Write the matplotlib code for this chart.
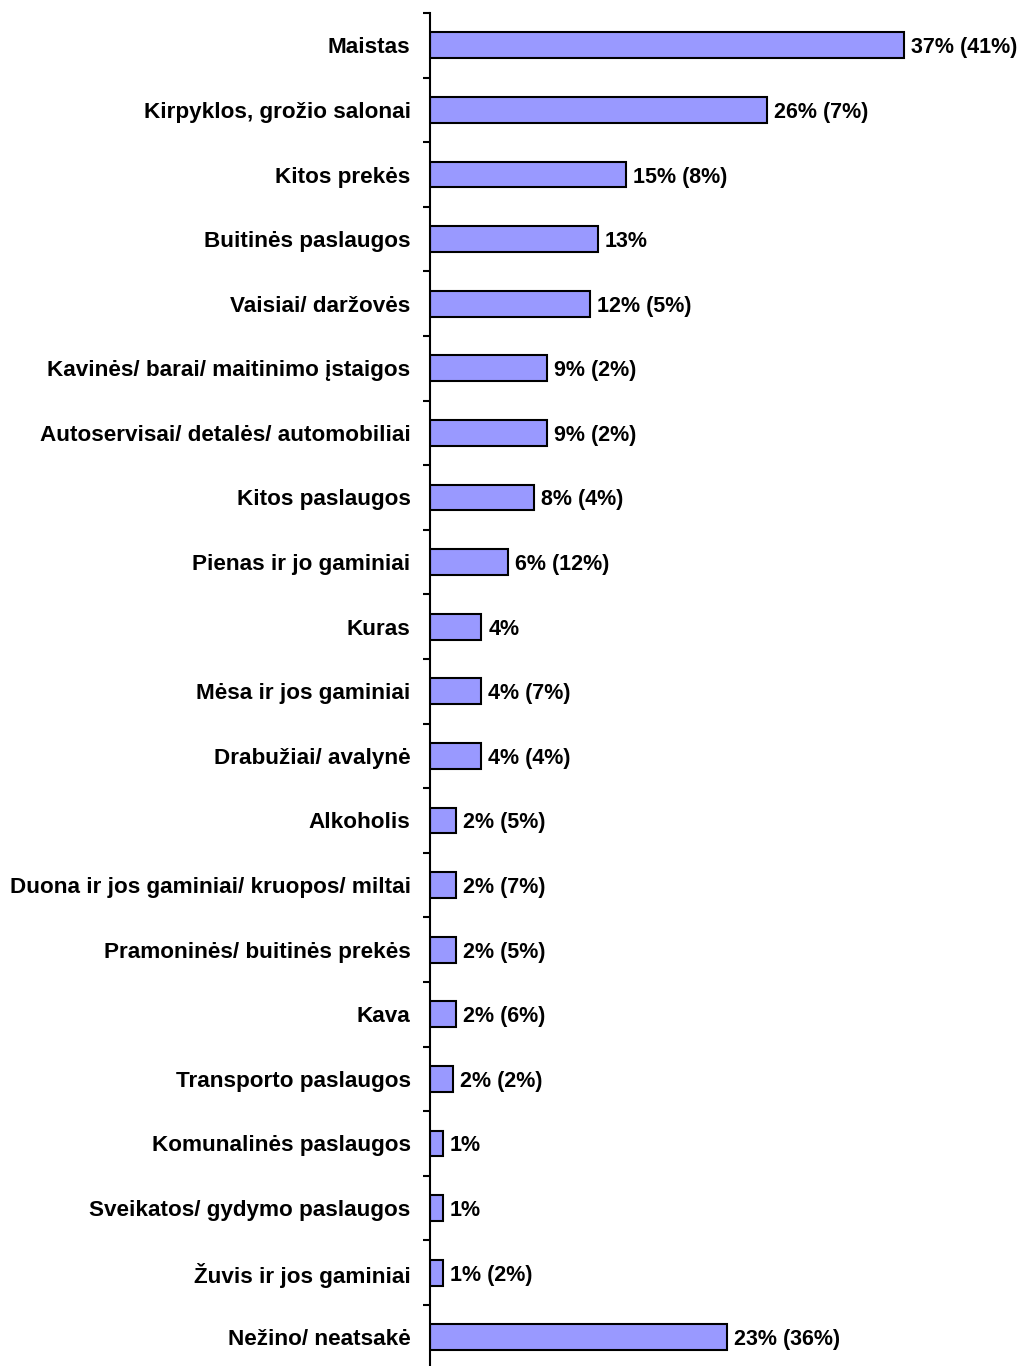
import matplotlib.pyplot as plt
import numpy as np

plt.rcParams['font.family'] = ['Liberation Sans', 'DejaVu Sans']

# categories top to bottom
categories = [
    'Maistas', 'Kirpyklos, grožio salonai', 'Kitos prekės', 'Buitinės paslaugos',
    'Vaisiai/ daržovės', 'Kavinės/ barai/ maitinimo įstaigos',
    'Autoservisai/ detalės/ automobiliai', 'Kitos paslaugos', 'Pienas ir jo gaminiai',
    'Kuras', 'Mėsa ir jos gaminiai', 'Drabužiai/ avalynė', 'Alkoholis',
    'Duona ir jos gaminiai/ kruopos/ miltai', 'Pramoninės/ buitinės prekės', 'Kava',
    'Transporto paslaugos', 'Komunalinės paslaugos', 'Sveikatos/ gydymo paslaugos',
    'Žuvis ir jos gaminiai', 'Nežino/ neatsakė',
]
# current share (%)
values = [37, 26.3, 15.3, 13.1, 12.5, 9.1, 9.1, 8.1, 6.1, 4.0, 4.0, 4.0,
          2.0, 2.0, 2.0, 2.0, 1.8, 1.0, 1.0, 1.0, 23.2]
# shown labels
shown = [37, 26, 15, 13, 12, 9, 9, 8, 6, 4, 4, 4, 2, 2, 2, 2, 2, 1, 1, 1, 23]
# previous survey values in parentheses (None = not shown)
previous = [41, 7, 8, None, 5, 2, 2, 4, 12, None, 7, 4, 5, 7, 5, 6, 2,
            None, None, 2, 36]

W, H = 1019, 1366
fig = plt.figure(figsize=(W / 100, H / 100), dpi=100)
x0, top = 430, 13
ax = fig.add_axes([x0 / W, 0, (W - x0) / W, (H - top) / H])

y = np.arange(len(categories))
ax.barh(y, values, height=0.4, color='#9999FF', edgecolor='black', linewidth=1.5)

ax.set_xlim(0, (W - x0) / 12.81)
slot = 64.6
ax.set_ylim(-0.5 + (H - top) / slot, -0.5)

for yi, v, s, p in zip(y, values, shown, previous):
    txt = f'{s}%' if p is None else f'{s}% ({p}%)'
    ax.text(v + 0.55, yi, txt, va='center_baseline', ha='left', fontsize=15.5, fontweight='bold')

ax.set_yticks(y)
ax.set_yticklabels(categories, fontsize=16.2, fontweight='bold', va='center_baseline')
ax.tick_params(axis='y', which='major', length=0, pad=14)
ax.set_yticks(np.arange(len(categories)) - 0.5, minor=True)
ax.tick_params(axis='y', which='minor', length=5, width=1.5, direction='out')
ax.set_xticks([])

for side in ['top', 'right', 'bottom']:
    ax.spines[side].set_visible(False)
ax.spines['left'].set_linewidth(1.5)

plt.savefig('out.png', dpi=100)
